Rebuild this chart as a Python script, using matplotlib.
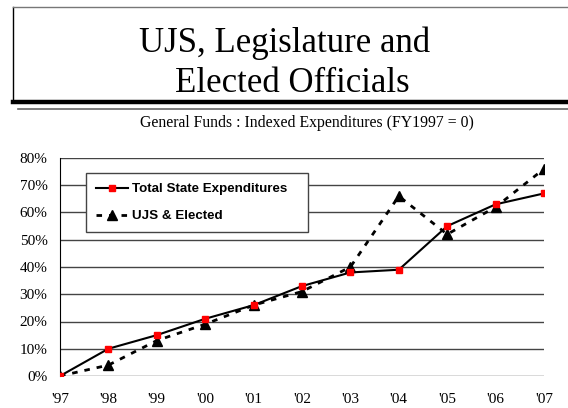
import matplotlib.pyplot as plt
from matplotlib.lines import Line2D

years = ["'97", "'98", "'99", "'00", "'01", "'02", "'03", "'04", "'05", "'06", "'07"]
total_state = [0, 10, 15, 21, 26, 33, 38, 39, 55, 63, 67]
ujs_elected = [0, 4, 13, 19, 26, 31, 40, 66, 52, 62, 76]

W, H = 568, 408
fig = plt.figure(figsize=(W / 100, H / 100), dpi=100)
fig.patch.set_facecolor("white")


def px(x, y):
    return x / W, 1 - y / H


# title frame: left + top border, heavy bottom rule and a thin second rule
x0, y0 = px(13, 7)
x1, y1 = px(568, 102)
fig.add_artist(Line2D([x0, x0], [y0, y1], color="black", lw=1.0))
fig.add_artist(Line2D([x0, 1], [y0, y0], color="#777777", lw=1.0))
fig.add_artist(Line2D([x0, 1], [y1, y1], color="black", lw=3.2))
xa, ya = px(18, 108.5)
fig.add_artist(Line2D([xa, 1], [ya, ya], color="#666666", lw=1.2))

serif = ["Liberation Serif", "DejaVu Serif"]
fig.text(*px(285, 52), "UJS, Legislature and", ha="center", va="baseline",
         fontsize=25, family=serif)
fig.text(*px(292, 92), "Elected Officials", ha="center", va="baseline",
         fontsize=25, family=serif)
fig.text(*px(307, 127), "General Funds : Indexed Expenditures (FY1997 = 0)",
         ha="center", va="baseline", fontsize=11.3, family=serif)

ax = fig.add_axes([60 / W, 32 / H, 484 / W, 218 / H])
x = list(range(len(years)))

ax.plot(x, total_state, color="black", lw=1.5, marker="s", markersize=4,
        markerfacecolor="red", markeredgecolor="red",
        label="Total State Expenditures", zorder=3)
ax.plot(x, ujs_elected, color="black", lw=2.0, linestyle=(0, (2, 2.5)),
        marker="^", markersize=7, markerfacecolor="black",
        markeredgecolor="black", label="UJS & Elected", zorder=2)

ax.set_xlim(0, len(years) - 1)
ax.set_ylim(0, 80)
ax.set_yticks(range(0, 81, 10))
ax.set_yticklabels([f"{v}%" for v in range(0, 81, 10)])
ax.set_xticks(x)
ax.set_xticklabels(years)
ax.grid(axis="y", color="#444444", lw=1.0)
ax.set_axisbelow(True)
for side in ["top", "right", "bottom"]:
    ax.spines[side].set_visible(False)
ax.spines["left"].set_color("black")
ax.tick_params(axis="y", length=0, pad=9, labelsize=11)
ax.tick_params(axis="x", length=0, pad=12, labelsize=11)
for lab in ax.get_xticklabels() + ax.get_yticklabels():
    lab.set_family(serif)

leg = ax.legend(loc="upper left", bbox_to_anchor=(0.054, 0.665, 0.458, 0.266),
                mode="expand", borderaxespad=0, fancybox=False, framealpha=1,
                edgecolor="#444444", handlelength=2.4, handletextpad=0.3,
                borderpad=0.75, labelspacing=1.1,
                prop={"family": "Liberation Sans", "weight": "bold",
                      "size": 9.6})
leg.get_frame().set_linewidth(1.0)
for h in leg.legend_handles:
    h.set_markevery([1])

fig.savefig("out.png", dpi=100)
